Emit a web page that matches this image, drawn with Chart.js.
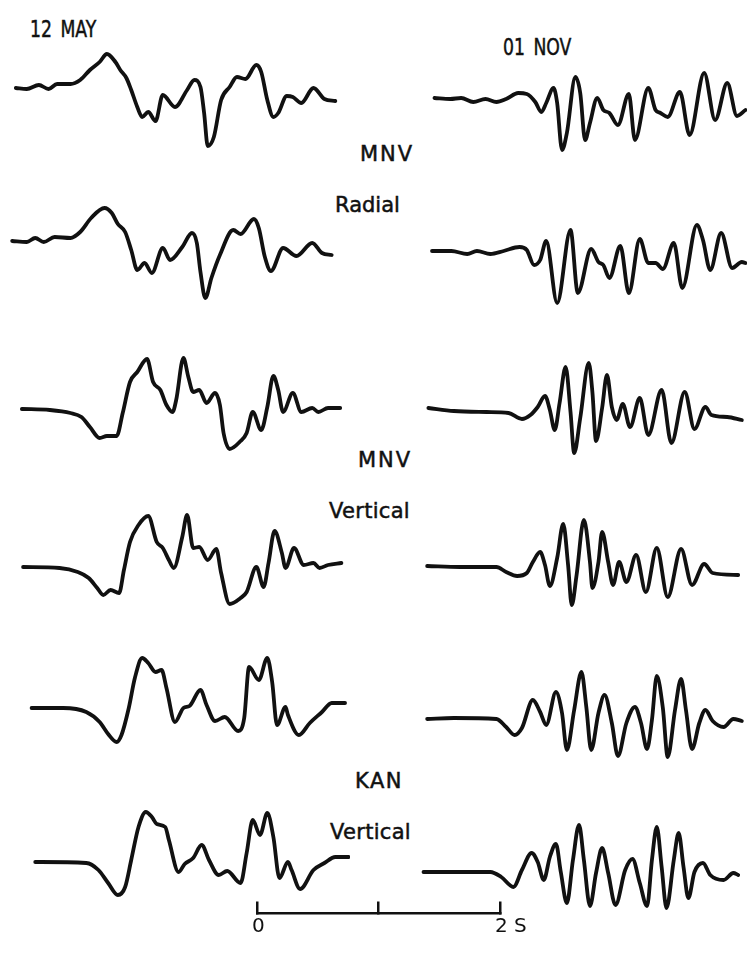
<!DOCTYPE html>
<html>
<head>
<meta charset="utf-8">
<script src="https://cdn.jsdelivr.net/npm/chart.js@4.4.1/dist/chart.umd.min.js"></script>
<style>
  body { margin: 0; background: #fff; }
  #figure { position: relative; width: 747px; height: 957px; overflow: hidden; background: #fff; }
  #figure canvas { position: absolute; }
  .lbl { position: absolute; font-family: "DejaVu Sans", sans-serif; font-size: 21px; line-height: 1; color: #111;
         white-space: nowrap; -webkit-text-stroke: 0.5px #111; }
  .title { font-size: 23px; transform: scaleX(0.75); transform-origin: left top; word-spacing: 4px; }
</style>
</head>
<body>
<div id="figure">
  <div class="lbl title" style="left:30px;top:18px">12 MAY</div>
  <div class="lbl title" style="left:503px;top:36px">01 NOV</div>
  <div class="lbl" style="left:360px;top:144px;letter-spacing:2px">MNV</div>
  <div class="lbl" style="left:335px;top:195px">Radial</div>
  <div class="lbl" style="left:358px;top:450px;letter-spacing:2px">MNV</div>
  <div class="lbl" style="left:329px;top:501px;letter-spacing:0.3px">Vertical</div>
  <div class="lbl" style="left:355px;top:771px;letter-spacing:1.5px">KAN</div>
  <div class="lbl" style="left:330px;top:822px;letter-spacing:0.3px">Vertical</div>
</div>
<script>
// time in seconds, amplitude in arbitrary units (up positive)

// MNV radial
const mayMnvRadial1Time = [0.13,0.22,0.32,0.40,0.47,0.58,0.66,0.74,0.82,0.88,0.95,0.99,1.04,1.08,1.13,1.17,1.22,1.28,1.34,1.44,1.54,1.60,1.65,1.68,1.71,1.76,1.82,1.89,1.95,2.02,2.11,2.15,2.20,2.25,2.29,2.36,2.41,2.48,2.58,2.67,2.76];
const mayMnvRadial1Amp  = [0,-1,3,-1,4,4,8,18,26,34,26,18,10,-2,-19,-29,-24,-33,-7,-19,-2,8,1,-25,-58,-49,-12,1,11,9,23,16,-12,-29,-25,-8,-9,-15,0,-11,-13];

const novMnvRadial1Time = [0.16,0.29,0.38,0.48,0.58,0.67,0.75,0.85,0.92,0.99,1.04,1.08,1.14,1.17,1.21,1.25,1.32,1.36,1.40,1.44,1.50,1.55,1.60,1.67,1.76,1.81,1.92,1.98,2.02,2.08,2.18,2.26,2.38,2.47,2.57,2.65,2.72];
const novMnvRadial1Amp  = [1,0,1,-3,0,-3,0,6,5,-3,-13,-4,11,-4,-51,-34,22,6,-41,-24,1,-11,-14,-26,5,-41,11,-11,-14,-18,7,-36,26,-21,16,-17,-11];

const mayMnvRadial2Time = [0.10,0.22,0.29,0.36,0.45,0.58,0.66,0.75,0.86,0.92,0.97,1.03,1.08,1.13,1.19,1.25,1.34,1.40,1.50,1.58,1.62,1.65,1.69,1.74,1.81,1.92,1.98,2.09,2.13,2.18,2.23,2.33,2.44,2.57,2.65,2.73];
const mayMnvRadial2Amp  = [-1,-2,2,-2,3,2,8,22,32,27,16,8,-10,-30,-23,-33,-8,-20,-7,7,-3,-32,-58,-38,-15,10,6,21,12,-17,-31,-8,-16,-3,-13,-15];

const novMnvRadial2Time = [0.14,0.30,0.43,0.51,0.62,0.73,0.86,0.92,0.98,1.03,1.08,1.17,1.28,1.34,1.45,1.51,1.55,1.60,1.69,1.76,1.85,1.92,1.98,2.04,2.13,2.20,2.32,2.37,2.43,2.52,2.61,2.69,2.72];
const novMnvRadial2Amp  = [0,0,-3,0,-3,0,4,1,-14,-9,10,-52,21,-42,2,-11,-14,-27,5,-42,12,-12,-12,-18,8,-37,26,11,-19,18,-17,-11,-12];

// MNV vertical
const mayMnvVertical1Time = [0.18,0.41,0.58,0.67,0.74,0.82,0.88,0.96,1.01,1.07,1.13,1.21,1.26,1.32,1.37,1.42,1.45,1.51,1.55,1.59,1.64,1.70,1.77,1.81,1.84,1.89,1.98,2.03,2.08,2.15,2.20,2.25,2.29,2.33,2.41,2.48,2.57,2.62,2.70,2.80];
const mayMnvVertical1Amp  = [0,-1,-4,-8,-18,-29,-27,-27,-4,27,37,50,27,19,4,-3,9,51,32,17,19,6,16,4,-24,-40,-32,-24,-3,-21,2,33,19,-3,16,-3,1,-3,1,1];

const novMnvVertical1Time = [0.11,0.32,0.59,0.77,0.88,0.95,1.01,1.07,1.11,1.15,1.19,1.24,1.28,1.31,1.36,1.43,1.46,1.49,1.54,1.58,1.62,1.66,1.71,1.77,1.85,1.92,2.03,2.11,2.22,2.30,2.39,2.44,2.57,2.69];
const novMnvVertical1Amp  = [2,-1,-2,-3,-9,-5,3,14,0,-20,7,43,-2,-43,-8,47,18,-31,2,35,3,-10,6,-17,12,-25,20,-33,18,-19,3,-5,-7,-10];

const mayMnvVertical2Time = [0.19,0.49,0.64,0.73,0.80,0.85,0.91,0.98,1.02,1.07,1.14,1.22,1.29,1.34,1.39,1.43,1.50,1.54,1.59,1.64,1.71,1.78,1.82,1.89,1.98,2.03,2.11,2.17,2.21,2.26,2.32,2.35,2.42,2.50,2.58,2.63,2.70,2.81];
const mayMnvVertical2Amp  = [0,-1,-5,-11,-21,-28,-23,-26,-3,25,42,51,25,19,7,-1,30,52,19,20,7,18,-6,-37,-31,-25,0,-20,4,36,14,-1,19,2,4,-1,2,4];

const novMnvVertical2Time = [0.10,0.37,0.67,0.75,0.84,0.92,0.97,1.03,1.07,1.11,1.17,1.22,1.26,1.29,1.33,1.39,1.44,1.46,1.51,1.54,1.59,1.63,1.68,1.74,1.82,1.90,1.99,2.08,2.19,2.28,2.38,2.45,2.66];
const novMnvVertical2Amp  = [1,0,0,-5,-9,-6,5,15,2,-19,9,43,2,-38,-8,47,5,-21,5,35,5,-18,5,-15,12,-25,19,-30,18,-18,3,-6,-8];

// KAN vertical
const mayKanVertical1Time = [0.26,0.52,0.71,0.82,0.89,0.96,1.00,1.06,1.11,1.17,1.22,1.28,1.33,1.37,1.44,1.51,1.56,1.65,1.70,1.77,1.85,1.96,2.01,2.05,2.13,2.20,2.24,2.28,2.35,2.37,2.46,2.55,2.65,2.73,2.84];
const mayKanVertical1Amp  = [0,0,-4,-14,-26,-34,-27,0,30,50,45,36,38,20,-14,0,2,18,3,-13,-9,-23,-10,41,28,50,26,-17,1,-7,-27,-15,-4,5,5];

const novKanVertical1Time = [0.10,0.32,0.67,0.75,0.82,0.88,0.97,1.03,1.08,1.16,1.21,1.25,1.31,1.37,1.41,1.45,1.51,1.56,1.62,1.67,1.74,1.81,1.86,1.91,1.95,1.99,2.04,2.08,2.14,2.19,2.23,2.28,2.34,2.39,2.45,2.54,2.62,2.69];
const novKanVertical1Amp  = [0,1,0,-8,-16,-9,19,7,-6,27,6,-31,9,47,12,-31,6,24,-4,-37,-4,12,-4,-30,-1,43,11,-38,9,40,9,-30,-4,9,-2,-8,0,-2];

const mayKanVertical2Time = [0.29,0.71,0.81,0.89,0.97,1.03,1.08,1.14,1.20,1.25,1.29,1.36,1.39,1.47,1.52,1.59,1.66,1.72,1.80,1.87,1.98,2.03,2.08,2.14,2.20,2.25,2.30,2.37,2.40,2.47,2.58,2.67,2.76,2.87];
const mayKanVertical2Amp  = [0,-1,-8,-21,-33,-25,2,35,50,45,38,35,22,-10,-2,4,17,2,-13,-9,-21,9,42,27,49,25,-16,0,-8,-27,-8,-1,5,5];

const novKanVertical2Time = [0.07,0.37,0.62,0.71,0.81,0.88,0.96,1.01,1.06,1.11,1.16,1.20,1.25,1.30,1.35,1.39,1.44,1.49,1.54,1.59,1.65,1.73,1.79,1.85,1.91,1.95,1.99,2.03,2.07,2.13,2.17,2.21,2.25,2.30,2.37,2.43,2.54,2.62,2.66];
const novKanVertical2Amp  = [0,0,0,-5,-15,2,19,10,-8,15,28,0,-31,12,47,12,-34,-1,24,-1,-33,2,13,-11,-34,12,45,5,-36,12,39,5,-26,0,9,-3,-8,-1,-3];

// time scale bar
const scaleTicks = [0, 1, 2];
const scaleLabels = ['0', '', '2 S'];

// layout
const PX_PER_S = 121.5;
const columns = { may: { left: 0, width: 350 }, nov: { left: 415, width: 332 } };
const TRACE_H = 140;

const traces = [
    { col: 'may', base: 88,  t: mayMnvRadial1Time,   a: mayMnvRadial1Amp },
    { col: 'nov', base: 99,  t: novMnvRadial1Time,   a: novMnvRadial1Amp },
    { col: 'may', base: 240, t: mayMnvRadial2Time,   a: mayMnvRadial2Amp },
    { col: 'nov', base: 251, t: novMnvRadial2Time,   a: novMnvRadial2Amp },
    { col: 'may', base: 409, t: mayMnvVertical1Time, a: mayMnvVertical1Amp },
    { col: 'nov', base: 410, t: novMnvVertical1Time, a: novMnvVertical1Amp },
    { col: 'may', base: 567, t: mayMnvVertical2Time, a: mayMnvVertical2Amp },
    { col: 'nov', base: 567, t: novMnvVertical2Time, a: novMnvVertical2Amp },
    { col: 'may', base: 708, t: mayKanVertical1Time, a: mayKanVertical1Amp },
    { col: 'nov', base: 719, t: novKanVertical1Time, a: novKanVertical1Amp },
    { col: 'may', base: 862, t: mayKanVertical2Time, a: mayKanVertical2Amp },
    { col: 'nov', base: 872, t: novKanVertical2Time, a: novKanVertical2Amp }
];

const figure = document.getElementById('figure');

function addCanvas(left, top, width, height) {
    const c = document.createElement('canvas');
    c.width = width;
    c.height = height;
    c.style.left = left + 'px';
    c.style.top = top + 'px';
    c.style.width = width + 'px';
    c.style.height = height + 'px';
    figure.appendChild(c);
    return c;
}

traces.forEach(tr => {
    const col = columns[tr.col];
    const canvas = addCanvas(col.left, tr.base - TRACE_H / 2, col.width, TRACE_H);
    new Chart(canvas.getContext('2d'), {
        type: 'line',
        data: {
            datasets: [{
                data: tr.t.map((t, i) => ({ x: t, y: tr.a[i] })),
                borderColor: '#111',
                borderWidth: 3.8,
                pointRadius: 0,
                fill: false,
                cubicInterpolationMode: 'monotone',
                borderCapStyle: 'round',
                borderJoinStyle: 'round'
            }]
        },
        options: {
            responsive: false,
            animation: false,
            devicePixelRatio: 1,
            layout: { padding: 0 },
            plugins: { legend: { display: false }, tooltip: { enabled: false } },
            scales: {
                x: { type: 'linear', display: false, min: 0, max: col.width / PX_PER_S },
                y: { display: false, min: -TRACE_H / 2, max: TRACE_H / 2 }
            }
        }
    });
});

// scale bar: 0 .. 2 s
const barCanvas = addCanvas(232, 880, 320, 100);
new Chart(barCanvas.getContext('2d'), {
    type: 'line',
    data: { datasets: [] },
    options: {
        responsive: false,
        animation: false,
        devicePixelRatio: 1,
        layout: { padding: { left: 25, right: 52, top: 0, bottom: 33 } },
        plugins: { legend: { display: false }, tooltip: { enabled: false } },
        scales: {
            x: {
                type: 'linear',
                position: 'bottom',
                min: 0,
                max: 2,
                afterBuildTicks: axis => { axis.ticks = scaleTicks.map(v => ({ value: v })); },
                border: { display: true, color: '#111', width: 2.5 },
                grid: { display: true, drawOnChartArea: false, drawTicks: true, tickLength: -12, color: '#111', lineWidth: 2.5 },
                ticks: {
                    color: '#111',
                    padding: 13,
                    align: 'start',
                    labelOffset: -5,
                    font: { family: 'DejaVu Sans', size: 20 },
                    callback: (v) => scaleLabels[scaleTicks.indexOf(v)]
                }
            },
            y: { display: false }
        }
    }
});
</script>
</body>
</html>
